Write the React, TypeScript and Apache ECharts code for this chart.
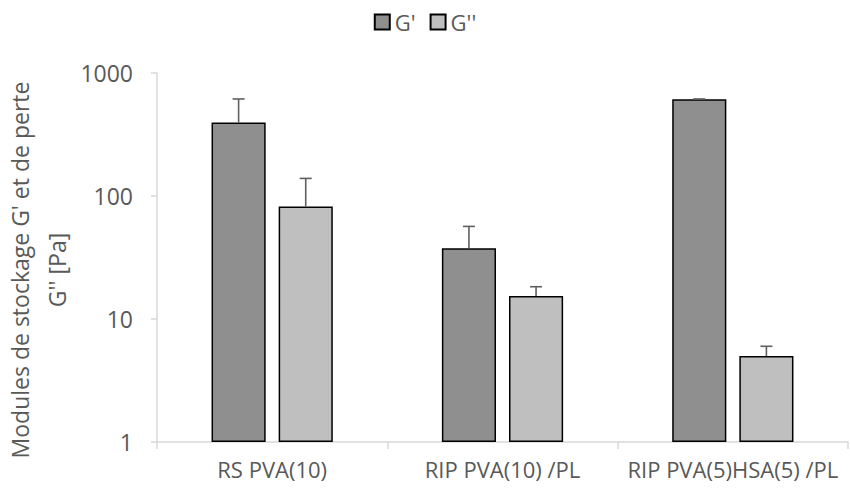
import React, { useEffect, useRef } from "react";
import * as echarts from "echarts";

const categories = ["RS PVA(10)", "RIP PVA(10) /PL", "RIP PVA(5)HSA(5) /PL"];
const seriesNames = ["G'", "G''"];
const gPrime = [395, 37.6, 611];
const gPrimeErr = [220, 19, 4];
const gSecond = [82, 15.4, 5.0];
const gSecondErr = [57, 2.9, 1.0];
const yTicks = [1, 10, 100, 1000];

const FONT = "Open Sans";
const BAR_W = 0.235;
const BAR_GAP = 0.24;

function errSeries(values: number[], errs: number[], side: number) {
  return {
    type: "custom",
    silent: true,
    z: 5,
    data: values.map((v, i) => [i, v, v + errs[i]]),
    renderItem: (params: any, api: any) => {
      const i = api.value(0);
      const v = api.value(1);
      const top = api.value(2);
      const band = api.coord([1, 1])[0] - api.coord([0, 1])[0];
      const w = band * BAR_W;
      const off = ((w + w * BAR_GAP) / 2) * side;
      const p0 = api.coord([i, v]);
      const p1 = api.coord([i, top]);
      const x = p0[0] + off;
      const cap = 6;
      const style = { stroke: "#606060", lineWidth: 1.6, fill: null };
      return {
        type: "group",
        children: [
          { type: "line", shape: { x1: x, y1: p0[1], x2: x, y2: p1[1] }, style },
          { type: "line", shape: { x1: x - cap, y1: p1[1], x2: x + cap, y2: p1[1] }, style },
        ],
      };
    },
  };
}

export default function App() {
  const ref = useRef<HTMLDivElement>(null);
  useEffect(() => {
    if (!ref.current) return;
    const chart = echarts.init(ref.current, null, { renderer: "svg" });
    chart.setOption({
      animation: false,
      backgroundColor: "#ffffff",
      textStyle: { fontFamily: FONT },
      legend: {
        data: seriesNames,
        top: 6,
        left: "center",
        itemWidth: 15,
        itemHeight: 15,
        itemGap: 14,
        icon: "rect",
        textStyle: { color: "#595959", fontSize: 22, fontFamily: FONT },
      },
      grid: { left: 157, right: 2, top: 73, bottom: 48, containLabel: false },
      xAxis: {
        type: "category",
        data: categories,
        axisLine: { show: true, lineStyle: { color: "#d9d9d9", width: 1.5 } },
        axisTick: { show: true, alignWithLabel: false, length: 7, lineStyle: { color: "#d9d9d9", width: 1.5 } },
        axisLabel: { color: "#595959", fontSize: 22, fontFamily: FONT, margin: 16, interval: 0 },
      },
      yAxis: {
        type: "log",
        logBase: 10,
        min: 1,
        max: 1000,
        axisLine: { show: true, lineStyle: { color: "#d9d9d9", width: 1.5 } },
        axisTick: { show: true, inside: false, length: 6, lineStyle: { color: "#d9d9d9", width: 1.5 } },
        splitLine: { show: false },
        minorTick: { show: false },
        axisLabel: {
          color: "#595959",
          fontSize: 23,
          fontFamily: FONT,
          margin: 24,
          formatter: (v: number) => {
            const t = yTicks.find((k) => Math.abs(k - v) < 1e-6 * k);
            return t !== undefined ? String(t) : "";
          },
        },
      },
      graphic: [
        {
          type: "text",
          x: 38,
          y: 270,
          rotation: Math.PI / 2,
          style: {
            text: "Modules de stockage G' et de perte\nG'' [Pa]",
            fill: "#595959",
            font: `23px "${FONT}"`,
            align: "center",
            verticalAlign: "middle",
            lineHeight: 37,
          },
        },
      ],
      series: [
        {
          name: seriesNames[0],
          type: "bar",
          data: gPrime,
          barWidth: `${BAR_W * 100}%`,
          barGap: `${BAR_GAP * 100}%`,
          itemStyle: { color: "#8f8f8f", borderColor: "#000000", borderWidth: 1.5 },
        },
        {
          name: seriesNames[1],
          type: "bar",
          data: gSecond,
          barWidth: `${BAR_W * 100}%`,
          barGap: `${BAR_GAP * 100}%`,
          itemStyle: { color: "#bfbfbf", borderColor: "#000000", borderWidth: 1.5 },
        },
        errSeries(gPrime, gPrimeErr, -1),
        errSeries(gSecond, gSecondErr, 1),
      ],
    });
    return () => chart.dispose();
  }, []);
  return <div ref={ref} style={{ width: 850, height: 490, position: "absolute", left: 0, top: 0 }} />;
}
